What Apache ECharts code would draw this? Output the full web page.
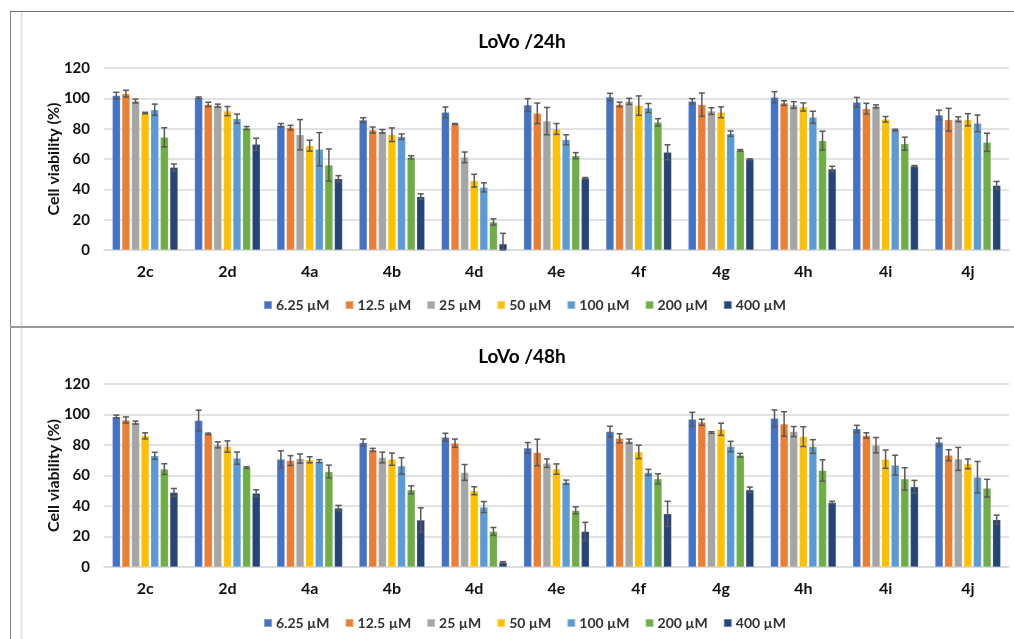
<!DOCTYPE html>
<html>
<head>
<meta charset="utf-8">
<script src="https://cdn.jsdelivr.net/npm/echarts@6/dist/echarts.min.js"></script>
<style>html,body{margin:0;padding:0;background:#fff}#c{width:1014px;height:639px}</style>
</head>
<body>
<div id="c"></div>
<script>
const categories = ['2c','2d','4a','4b','4d','4e','4f','4g','4h','4i','4j'];
const concentrations = ['6.25 µM','12.5 µM','25 µM','50 µM','100 µM','200 µM','400 µM'];
const yTicks = [0, 20, 40, 60, 80, 100, 120];
const titles = ['LoVo /24h', 'LoVo /48h'];
const yAxisTitle = 'Cell viability (%)';

// 24h means
const c6_25_24 = [101.8, 100.4, 82.2, 85.7, 90.8, 95.6, 100.9, 98.0, 100.7, 97.4, 89.0];
const c12_5_24 = [103.1, 96.0, 80.7, 79.1, 83.1, 90.1, 96.0, 95.8, 96.9, 93.2, 85.9];
const c25_24   = [98.2, 95.2, 76.0, 78.2, 61.1, 85.0, 98.0, 91.6, 95.6, 94.7, 86.2];
const c50_24   = [90.3, 91.6, 68.8, 76.0, 45.7, 79.8, 95.2, 90.8, 94.3, 86.2, 85.9];
const c100_24  = [92.5, 86.6, 66.4, 74.7, 41.3, 72.7, 93.6, 76.7, 87.5, 79.1, 83.5];
const c200_24  = [74.3, 80.4, 56.0, 61.1, 18.5, 62.2, 84.2, 65.7, 72.1, 70.1, 71.0];
const c400_24  = [54.5, 69.7, 47.0, 35.2, 4.0, 47.3, 64.4, 59.8, 53.4, 55.2, 42.6];
// 24h errors
const e6_25_24 = [2.2, 0.5, 1.2, 1.5, 3.5, 4.2, 2.4, 1.8, 3.7, 3.2, 3.2];
const e12_5_24 = [2.2, 1.4, 1.5, 2.0, 0.3, 6.8, 1.5, 7.7, 1.5, 3.5, 7.5];
const e25_24   = [1.3, 1.0, 10.0, 1.2, 3.5, 9.0, 2.0, 2.2, 2.2, 1.0, 1.6];
const e50_24   = [0.5, 3.0, 3.6, 4.5, 4.2, 3.6, 6.4, 3.6, 2.7, 1.8, 4.0];
const e100_24  = [3.7, 3.0, 11.0, 1.8, 3.0, 3.3, 3.0, 1.8, 4.0, 0.5, 5.5];
const e200_24  = [6.3, 1.0, 10.6, 1.0, 2.0, 2.0, 2.4, 0.5, 6.2, 4.3, 6.0];
const e400_24  = [2.2, 4.0, 2.0, 1.8, 7.0, 0.5, 5.0, 0.3, 1.8, 0.5, 2.6];

// 48h means
const c6_25_48 = [98.6, 96.0, 70.7, 81.6, 85.1, 78.1, 88.8, 96.9, 97.5, 90.6, 81.8];
const c12_5_48 = [96.4, 87.3, 69.8, 76.8, 81.2, 75.1, 84.4, 94.9, 93.8, 86.2, 73.3];
const c25_48   = [94.7, 80.1, 71.1, 71.8, 62.0, 68.1, 82.5, 88.2, 88.8, 79.9, 70.9];
const c50_48   = [86.0, 79.0, 70.3, 70.7, 50.0, 64.2, 75.5, 90.3, 85.5, 70.7, 67.6];
const c100_48  = [72.9, 71.4, 69.4, 66.3, 39.3, 55.6, 62.0, 79.0, 79.0, 66.8, 58.9];
const c200_48  = [64.2, 65.2, 62.6, 50.6, 23.3, 37.1, 57.8, 73.3, 63.3, 57.8, 51.7];
const c400_48  = [48.9, 48.4, 38.6, 30.8, 3.0, 23.3, 34.9, 50.6, 42.3, 52.6, 31.0];
// 48h errors
const e6_25_48 = [1.0, 6.8, 5.5, 2.3, 2.6, 3.5, 3.5, 4.5, 5.5, 2.3, 2.7];
const e12_5_48 = [2.0, 0.5, 3.2, 1.0, 2.7, 8.7, 3.0, 2.0, 8.0, 1.8, 3.6];
const e25_48   = [1.0, 2.0, 3.0, 3.5, 5.2, 2.8, 1.4, 0.5, 3.3, 5.0, 7.5];
const e50_48   = [2.0, 3.7, 2.0, 4.0, 2.6, 3.4, 4.4, 4.0, 6.5, 6.0, 3.2];
const e100_48  = [2.3, 4.0, 1.0, 5.4, 3.6, 1.4, 2.0, 3.4, 4.5, 6.5, 10.3];
const e200_48  = [3.5, 0.5, 4.2, 2.6, 2.6, 2.3, 3.3, 1.2, 7.0, 7.3, 5.8];
const e400_48  = [2.6, 2.2, 1.8, 8.0, 0.5, 6.0, 8.2, 1.8, 0.8, 4.2, 3.0];

const means = [
  [c6_25_24, c12_5_24, c25_24, c50_24, c100_24, c200_24, c400_24],
  [c6_25_48, c12_5_48, c25_48, c50_48, c100_48, c200_48, c400_48]
];
const errs = [
  [e6_25_24, e12_5_24, e25_24, e50_24, e100_24, e200_24, e400_24],
  [e6_25_48, e12_5_48, e25_48, e50_48, e100_48, e200_48, e400_48]
];

const colors = ['#4472C4','#ED7D31','#A5A5A5','#FFC000','#5B9BD5','#70AD47','#264478'];
const FONT = 'Lato';
const BAR_W = 8, BAR_GAP = 0.2;

const chart = echarts.init(document.getElementById('c'), null, {renderer: 'canvas'});

const grids = [
  {left: 104, right: 5, top: 68, bottom: 389},
  {left: 104, right: 5, top: 384, bottom: 72}
];
const xAxes = grids.map((g, i) => ({
  type: 'category', gridIndex: i, data: categories,
  axisLine: {lineStyle: {color: '#d9d9d9', width: 1.5}},
  axisTick: {show: false},
  axisLabel: {fontFamily: FONT, fontWeight: 'bold', fontSize: 16, color: '#111', margin: 14}
}));
const yAxes = grids.map((g, i) => ({
  type: 'value', gridIndex: i, min: yTicks[0], max: yTicks[yTicks.length-1], interval: yTicks[1]-yTicks[0],
  name: yAxisTitle, nameLocation: 'middle', nameGap: 42, nameMoveOverlap: false,
  nameTextStyle: {fontFamily: FONT, fontWeight: 'bold', fontSize: 16, color: '#111'},
  axisLine: {show: false}, axisTick: {show: false},
  axisLabel: {fontFamily: FONT, fontWeight: 'bold', fontSize: 15, color: '#111', margin: 14},
  splitLine: {lineStyle: {color: '#d9d9d9', width: 1.5}}
}));

const series = [];
for (let p = 0; p < 2; p++) {
  for (let s = 0; s < 7; s++) {
    series.push({
      type: 'bar', name: concentrations[s], xAxisIndex: p, yAxisIndex: p,
      data: means[p][s], barWidth: BAR_W, barGap: (BAR_GAP*100) + '%',
      itemStyle: {color: colors[s], borderColor: 'rgba(255,255,255,0.35)', borderWidth: 0.5},
      z: 2
    });
  }
  for (let s = 0; s < 7; s++) {
    const sIdx = s;
    series.push({
      type: 'custom', xAxisIndex: p, yAxisIndex: p, z: 5, silent: true,
      data: means[p][s].map((v, k) => [k, v, errs[p][s][k]]),
      renderItem: function (params, api) {
        const k = api.value(0), v = api.value(1), e = api.value(2);
        const pitch = BAR_W * (1 + BAR_GAP);
        const off = (sIdx - 3) * pitch;
        const hi = api.coord([k, v + e]);
        const lo = api.coord([k, Math.max(0, v - e)]);
        const x = hi[0] + off;
        const cap = 3;
        const st = {stroke: '#595959', lineWidth: 1.5};
        return {type: 'group', children: [
          {type: 'line', shape: {x1: x, y1: hi[1], x2: x, y2: lo[1]}, style: st},
          {type: 'line', shape: {x1: x - cap, y1: hi[1], x2: x + cap, y2: hi[1]}, style: st},
          {type: 'line', shape: {x1: x - cap, y1: lo[1], x2: x + cap, y2: lo[1]}, style: st}
        ]};
      }
    });
  }
}

const legendCommon = {
  data: concentrations, icon: 'rect', itemWidth: 8, itemHeight: 8, itemGap: 15,
  left: 258, selectedMode: false,
  textStyle: {fontFamily: FONT, fontWeight: 'bold', fontSize: 14, color: '#333', padding: [0,0,0,-1]}
};

chart.setOption({
  animation: false,
  color: colors,
  title: [
    {text: titles[0], left: 517, top: 27, textAlign: 'center',
     textStyle: {fontFamily: FONT, fontWeight: 'bold', fontSize: 19, color: '#000'}},
    {text: titles[1], left: 517, top: 342, textAlign: 'center',
     textStyle: {fontFamily: FONT, fontWeight: 'bold', fontSize: 19, color: '#000'}}
  ],
  legend: [
    Object.assign({top: 293}, legendCommon),
    Object.assign({top: 611}, legendCommon)
  ],
  grid: grids,
  xAxis: xAxes,
  yAxis: yAxes,
  series: series,
  graphic: [
    {type: 'line', shape: {x1: 21.5, y1: 12, x2: 21.5, y2: 639}, style: {stroke: '#e4e4e4', lineWidth: 2}, z: 0},
    {type: 'line', shape: {x1: 10.5, y1: 11, x2: 10.5, y2: 639}, style: {stroke: '#808080', lineWidth: 1}, z: 10},
    {type: 'line', shape: {x1: 10, y1: 11.5, x2: 1014, y2: 11.5}, style: {stroke: '#6f6f6f', lineWidth: 1.2}, z: 10},
    {type: 'line', shape: {x1: 10, y1: 327, x2: 1014, y2: 327}, style: {stroke: '#9a9a9a', lineWidth: 2}, z: 10}
  ]
});
</script>
</body>
</html>
